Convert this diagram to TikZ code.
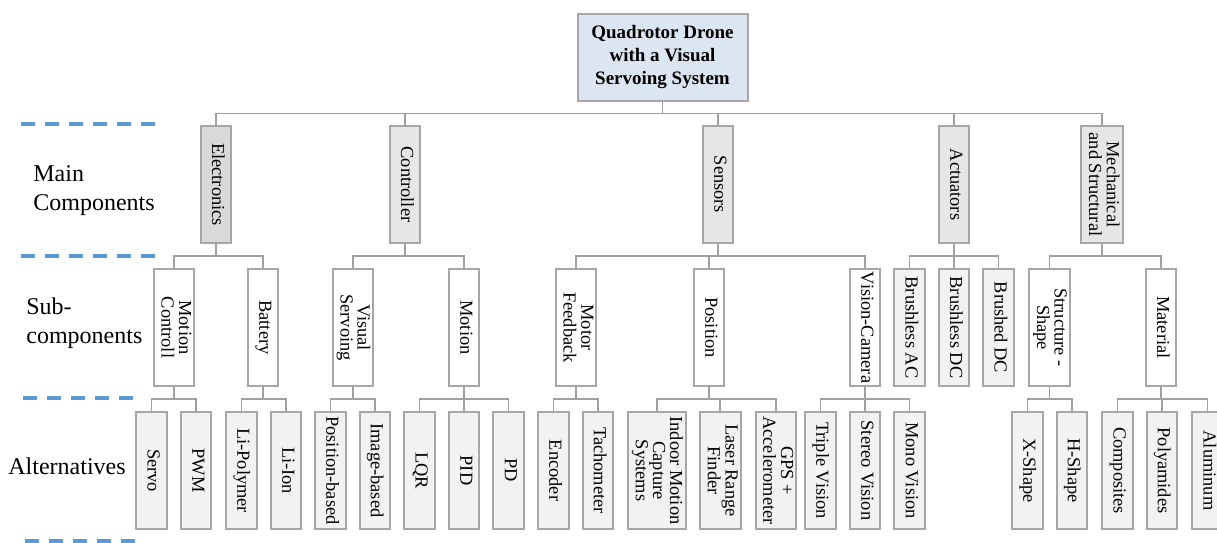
\documentclass[tikz,border=0pt]{standalone}
\usepackage{fontspec}
\setmainfont{Liberation Serif}
\usepackage{graphicx}
\usetikzlibrary{positioning}

\definecolor{rootblue}{HTML}{DCE6F2}
\definecolor{elecgray}{HTML}{D9D9D9}
\definecolor{maingray}{HTML}{E6E6E6}
\definecolor{altgray}{HTML}{F2F2F2}
\definecolor{boxline}{HTML}{A6A6A6}
\definecolor{linkline}{HTML}{A0A0A0}
\definecolor{levelblue}{HTML}{5B9BD5}

\newcommand{\vlabel}[1]{\rotatebox{-90}{\begin{tabular}{@{}c@{}}#1\end{tabular}}}

\tikzset{
  part/.style={
    rectangle,
    draw=boxline, line width=1pt,
    minimum width=15.3pt, minimum height=58.5pt,
    inner xsep=1.5pt, inner ysep=0.5pt,
    font=\fontsize{9.2}{8.2}\selectfont
  },
  main/.style={part, fill=maingray},
  sub/.style={part, fill=white},
  alt/.style={part, fill=altgray},
  link/.style={
    draw=linkline, line width=0.75pt,
    to path={(\tikztostart) -- ++(0,-6pt) -| (\tikztotarget)}
  },
  level/.style={draw=levelblue, line width=2pt, dash pattern=on 7pt off 5pt},
  lvltext/.style={anchor=west, inner sep=0pt, align=left,
    font=\fontsize{12}{14.5}\selectfont},
}

\begin{document}
\begin{tikzpicture}[x=0.5pt,y=-0.5pt]
\useasboundingbox (0,0) rectangle (1217,542);

% levels
\draw[level] (21,124) -- (160,124);
\draw[level] (21,256) -- (160,256);
\draw[level] (23,398) -- (137,398);
\draw[level] (25,541) -- (140,541);
\node[lvltext] (MAINLBL) at (33,191) {Main\\Components};
\node[lvltext] (SUBLBL) at (26,323) {Sub-\\components};
\node[lvltext] (ALTLBL) at (8,466) {Alternatives};

% root
\node[part, fill=rootblue, minimum width=85pt, minimum height=43.5pt, align=center,
  font=\bfseries\fontsize{9.5}{11.5}\selectfont] (ROOT) at (662.5,57)
  {Quadrotor Drone\\with a Visual\\Servoing System};

% main components
\node[main, fill=elecgray] (ELEC) at (216,184.5) {\vlabel{Electronics}};
\node[main] (CTRL) at (405,184.5) {\vlabel{Controller}};
\node[main] (SENS) at (718,184.5) {\vlabel{Sensors}};
\node[main] (ACT) at (954,184.5) {\vlabel{Actuators}};
\node[main] (MECH) at (1102,184.5) {\vlabel{Mechanical\\and Structural}};

% sub-components
\node[sub] (MOTCTRL) at (174,327.5) {\vlabel{Motion\\Controll}};
\node[sub] (BATT) at (263,327.5) {\vlabel{Battery}};
\node[sub] (VISSERV) at (353,327.5) {\vlabel{Visual\\Servoing}};
\node[sub] (MOTION) at (464,327.5) {\vlabel{Motion}};
\node[sub] (MOTFB) at (576,327.5) {\vlabel{Motor\\Feedback}};
\node[sub] (POS) at (709,327.5) {\vlabel{Position}};
\node[sub] (VISCAM) at (865,327.5) {\vlabel{Vision-Camera}};
\node[alt] (BLAC) at (909.5,327.5) {\vlabel{Brushless AC}};
\node[alt] (BLDC) at (954,327.5) {\vlabel{Brushless DC}};
\node[alt] (BRDC) at (998.5,327.5) {\vlabel{Brushed DC}};
\node[sub] (STRUCT) at (1049.5,327.5) {\vlabel{Structure -\\Shape}};
\node[sub] (MAT) at (1161,327.5) {\vlabel{Material}};

% alternatives
\node[alt, anchor=west] (SERVO) at (135,470.5) {\vlabel{Servo}};
\node[alt, right=6pt of SERVO] (PWM) {\vlabel{PWM}};
\node[alt, anchor=west] (LIPOLY) at (225,470.5) {\vlabel{Li-Polymer}};
\node[alt, right=6pt of LIPOLY] (LIION) {\vlabel{Li-Ion}};
\node[alt, anchor=west] (POSBASED) at (314,470.5) {\vlabel{Position-based}};
\node[alt, right=6pt of POSBASED] (IMGBASED) {\vlabel{Image-based}};
\node[alt, anchor=west] (LQR) at (403,470.5) {\vlabel{LQR}};
\node[alt, right=6pt of LQR] (PID) {\vlabel{PID}};
\node[alt, right=6pt of PID] (PD) {\vlabel{PD}};
\node[alt, anchor=west] (ENCODER) at (537,470.5) {\vlabel{Encoder}};
\node[alt, right=6pt of ENCODER] (TACHO) {\vlabel{Tachometer}};
\node[alt, anchor=west] (INDOOR) at (627,470.5) {\vlabel{Indoor Motion\\Capture\\Systems}};
\node[alt, right=6pt of INDOOR] (LASER) {\vlabel{Laser Range\\Finder}};
\node[alt, right=6.5pt of LASER] (GPS) {\vlabel{GPS +\\Accelerometer}};
\node[alt, anchor=west] (TRIPLE) at (804,470.5) {\vlabel{Triple Vision}};
\node[alt, right=6pt of TRIPLE] (STEREO) {\vlabel{Stereo Vision}};
\node[alt, right=6pt of STEREO] (MONO) {\vlabel{Mono Vision}};
\node[alt, anchor=west] (XSHAPE) at (1011,470.5) {\vlabel{X-Shape}};
\node[alt, right=6pt of XSHAPE] (HSHAPE) {\vlabel{H-Shape}};
\node[alt, anchor=west] (COMPOS) at (1101,470.5) {\vlabel{Composites}};
\node[alt, right=6pt of COMPOS] (POLYAM) {\vlabel{Polyamides}};
\node[alt, right=6.5pt of POLYAM] (ALUMIN) {\vlabel{Aluminum}};

% connectors
\foreach \c in {ELEC,CTRL,SENS,ACT,MECH}
  \draw[link] (ROOT.south) to (\c.north);
\foreach \p/\c in {ELEC/MOTCTRL, ELEC/BATT, CTRL/VISSERV, CTRL/MOTION,
    SENS/MOTFB, SENS/POS, SENS/VISCAM, ACT/BLAC, ACT/BLDC, ACT/BRDC,
    MECH/STRUCT, MECH/MAT}
  \draw[link] (\p.south) to (\c.north);
\foreach \p/\c in {MOTCTRL/SERVO, MOTCTRL/PWM, BATT/LIPOLY, BATT/LIION,
    VISSERV/POSBASED, VISSERV/IMGBASED, MOTION/LQR, MOTION/PID, MOTION/PD,
    MOTFB/ENCODER, MOTFB/TACHO, POS/INDOOR, POS/LASER, POS/GPS,
    VISCAM/TRIPLE, VISCAM/STEREO, VISCAM/MONO, STRUCT/XSHAPE, STRUCT/HSHAPE,
    MAT/COMPOS, MAT/POLYAM, MAT/ALUMIN}
  \draw[link] (\p.south) to (\c.north);
\end{tikzpicture}
\end{document}
